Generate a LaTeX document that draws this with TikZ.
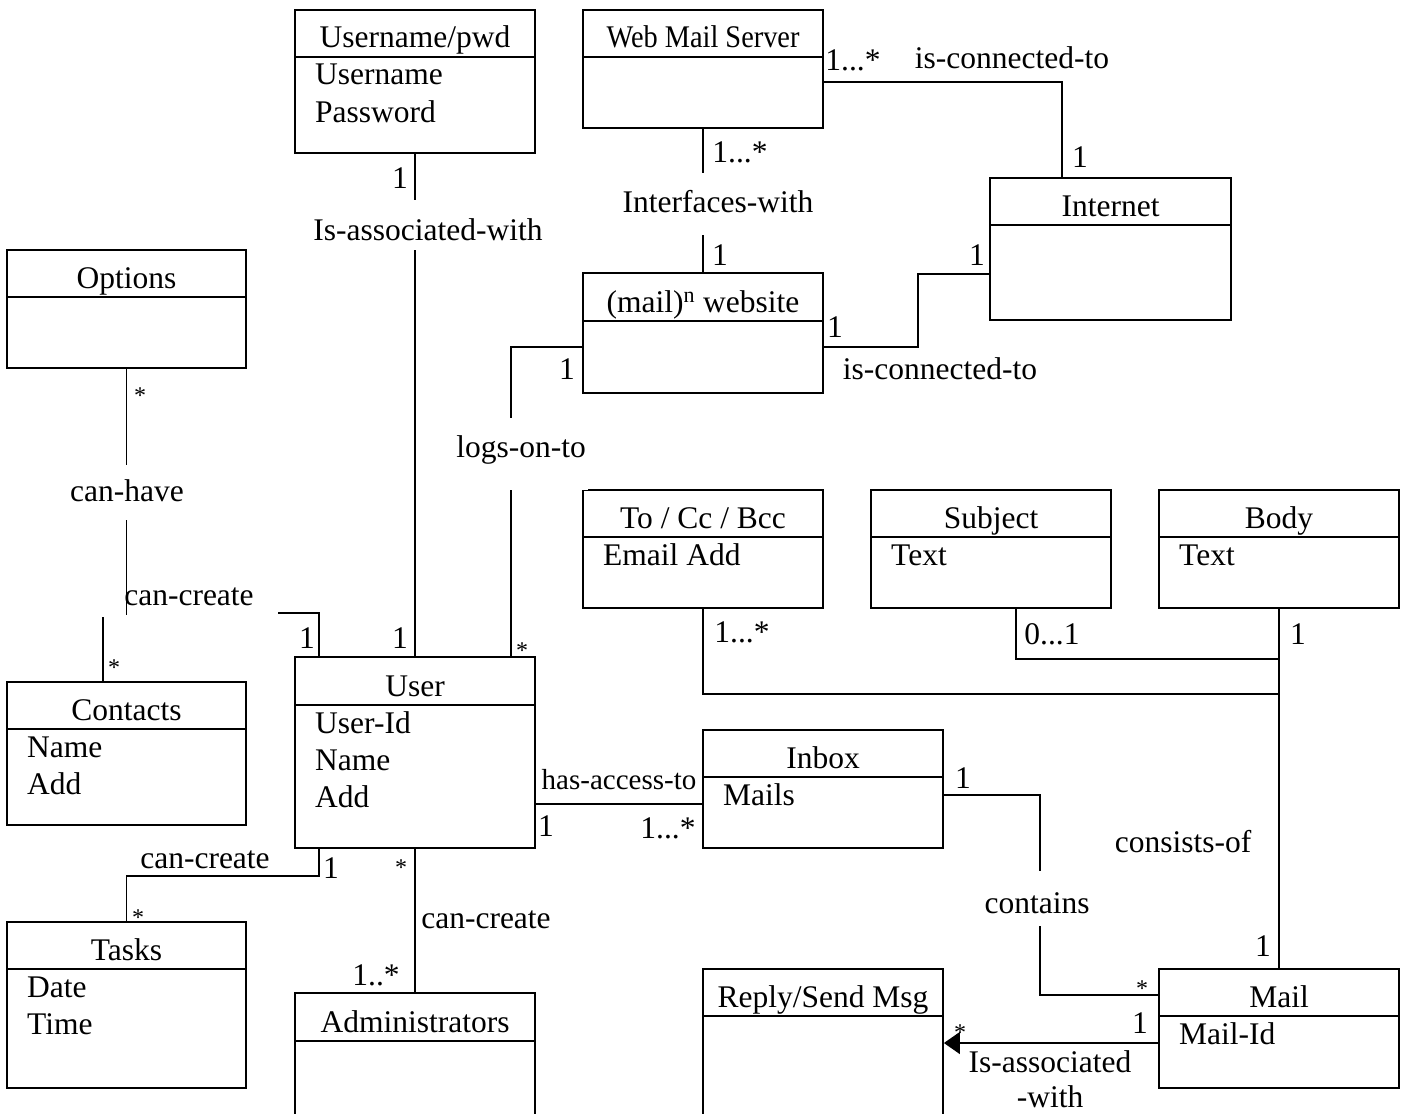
\documentclass[tikz,border=0pt]{standalone}
\usepackage{fontspec}
\setmainfont{Liberation Serif}
\usepackage{graphicx}
\usetikzlibrary{arrows.meta}

\tikzset{
  every node/.style={font=\fontsize{31.5}{36}\selectfont, inner sep=0pt},
  classbox/.style={draw, line width=1.8pt, inner sep=0pt},
  divider/.style={line width=1.8pt},
  ctitle/.style={anchor=base},
  cattr/.style={anchor=base west},
  assoc/.style={line width=1.8pt},
  lbl/.style={text height=21pt, text depth=0pt, anchor=center},
  gaplbl/.style={lbl, fill=white, inner xsep=2pt},
  star/.style={lbl, font=\fontsize{24}{26}\selectfont},
}

% class box: name, x1, y1, x2, y2, divider y, title
\newcommand\umlclass[7]{%
  \node[classbox, minimum width={(#4)-(#2)}, minimum height={(#5)-(#3)}]
    (#1) at ({((#2)+(#4))/2},{((#3)+(#5))/2}) {};
  \draw[divider] (#2,#6) -- (#4,#6);
  \node[ctitle] (#1-t) at ({((#2)+(#4))/2},{(#6)-9}) {#7};
}
% attribute line: name, x1, divider y, row, text
\newcommand\umlattr[5]{%
  \node[cattr] (#1-a#4) at ({(#2)+20},{(#3)+28+37*(#4)}) {#5};
}

\begin{document}
\begin{tikzpicture}[x=1pt,y=-1pt]
\useasboundingbox (0,0) rectangle (1404,1113);
\clip (0,0) rectangle (1404,1113);

% classes
\umlclass{unpwd}{295}{10}{535}{153}{57}{Username/pwd}
\umlattr{unpwd}{295}{57}{0}{Username}
\umlattr{unpwd}{295}{57}{1}{Password}

\umlclass{wms}{583}{10}{823}{128}{57}{\scalebox{0.9}[1]{Web Mail Server}}
\umlclass{internet}{990}{178}{1231}{320}{225}{Internet}
\umlclass{website}{583}{273}{823}{393}{321}{(mail)\textsuperscript{n} website}
\umlclass{options}{7}{250}{246}{368}{297}{Options}

\umlclass{contacts}{7}{682}{246}{825}{729}{Contacts}
\umlattr{contacts}{7}{729}{0}{Name}
\umlattr{contacts}{7}{729}{1}{Add}

\umlclass{user}{295}{657}{535}{848}{705}{User}
\umlattr{user}{295}{705}{0}{User-Id}
\umlattr{user}{295}{705}{1}{Name}
\umlattr{user}{295}{705}{2}{Add}

\umlclass{tasks}{7}{922}{246}{1088}{969}{Tasks}
\umlattr{tasks}{7}{969}{0}{Date}
\umlattr{tasks}{7}{969}{1}{Time}

\umlclass{admin}{295}{993}{535}{1135}{1041}{Administrators}

\umlclass{tocc}{583}{490}{823}{608}{537}{To / Cc / Bcc}
\umlattr{tocc}{583}{537}{0}{Email Add}
\umlclass{subject}{871}{490}{1111}{608}{537}{Subject}
\umlattr{subject}{871}{537}{0}{Text}
\umlclass{body}{1159}{490}{1399}{608}{537}{Body}
\umlattr{body}{1159}{537}{0}{Text}

\umlclass{inbox}{703}{730}{943}{848}{777}{Inbox}
\umlattr{inbox}{703}{777}{0}{Mails}
\umlclass{reply}{703}{969}{943}{1135}{1016}{Reply/Send Msg}
\umlclass{mail}{1159}{969}{1399}{1088}{1016}{Mail}
\umlattr{mail}{1159}{1016}{0}{Mail-Id}

% associations
\draw[assoc] (unpwd.south) -- (user.north);
\draw[assoc] (wms.south) -- (website.north);
\draw[assoc] (wms.east |- 0,82) -| (internet.north -| 1062,0);
\draw[assoc] (website.east |- 0,347) -- (918,347) |- (internet.west |- 0,274);
\draw[assoc] (website.west |- 0,347) -| (user.north -| 511,0);
\draw[assoc] (user.north -| 319,0) -- (319,613) -| (contacts.north -| 103,0);
\draw[assoc] (user.south -| 319,0) -- (319,876) -| (tasks.north);
\draw[assoc] (user.south) -- (admin.north);
\draw[assoc] (user.east |- 0,804) -- (inbox.west |- 0,804);
\draw[assoc] (inbox.east |- 0,795) -| (1040,995) -- (mail.west |- 0,995);
\draw[assoc, line width=1.3pt, -{Triangle[length=16pt,width=22pt]}]
  (mail.west |- 0,1043) -- (reply.east |- 0,1043);
\draw[assoc] (body.south) -- (mail.north);
\coordinate (subj-join) at (body.south |- 0,659);
\coordinate (tocc-join) at (body.south |- 0,694);
\draw[assoc] (subject.south -| 1016,0) |- (subj-join);
\draw[assoc] (tocc.south) |- (tocc-join);

% association names that break their lines
\node[gaplbl, text height=31pt, minimum height=50pt] at (428,225) {Is-associated-with};
\node[gaplbl, text depth=4pt, minimum height=62pt] at (718,204) {Interfaces-with};
\node[gaplbl, text depth=14pt, minimum height=72pt] at (521,454) {logs-on-to};
\node[gaplbl, text height=30pt, minimum height=55pt] at (1037,898) {contains};
\node[gaplbl, minimum width=178pt, minimum height=44pt] (cc1) at (189,595) {can-create};
\draw[assoc] (options.south) -- (126.5,615) coordinate (ch-end);
\node[gaplbl, text depth=3pt, minimum height=55pt] at (127,492) {can-have};

% other association names
\node[lbl] at (1012,58) {is-connected-to};
\node[lbl] at (940,369) {is-connected-to};
\node[lbl] at (205,858) {can-create};
\node[lbl] at (486,918) {can-create};
\node[lbl, font=\fontsize{29}{34}\selectfont] at (619,779) {has-access-to};
\node[lbl] at (1050,1062) {Is-associated};
\node[lbl] at (1050,1097) {-with};
\node[lbl] at (1183,842) {consists-of};

% multiplicities
\node[lbl] at (400,178) {1};
\node[lbl] at (740,152) {1...*};
\node[lbl] at (720,255) {1};
\node[lbl] at (853,60) {1...*};
\node[lbl] at (1080,157) {1};
\node[lbl] at (977,255) {1};
\node[lbl] at (835,327) {1};
\node[lbl] at (567,369) {1};
\node[star] at (522,648) {*};
\node[lbl] at (400,638) {1};
\node[lbl] at (307,638) {1};
\node[star] at (140,393) {*};
\node[star] at (114,665) {*};
\node[lbl] at (331,868) {1};
\node[star] at (138,915) {*};
\node[star] at (401,865) {*};
\node[lbl] at (376,975) {1..*};
\node[lbl] at (546,826) {1};
\node[lbl] at (668,828) {1...*};
\node[lbl] at (963,778) {1};
\node[star] at (1142,986) {*};
\node[lbl] at (1140,1023) {1};
\node[star] at (960,1030) {*};
\node[lbl] at (742,632) {1...*};
\node[lbl] at (1052,634) {0...1};
\node[lbl] at (1298,634) {1};
\node[lbl] at (1263,946) {1};
\end{tikzpicture}
\end{document}
